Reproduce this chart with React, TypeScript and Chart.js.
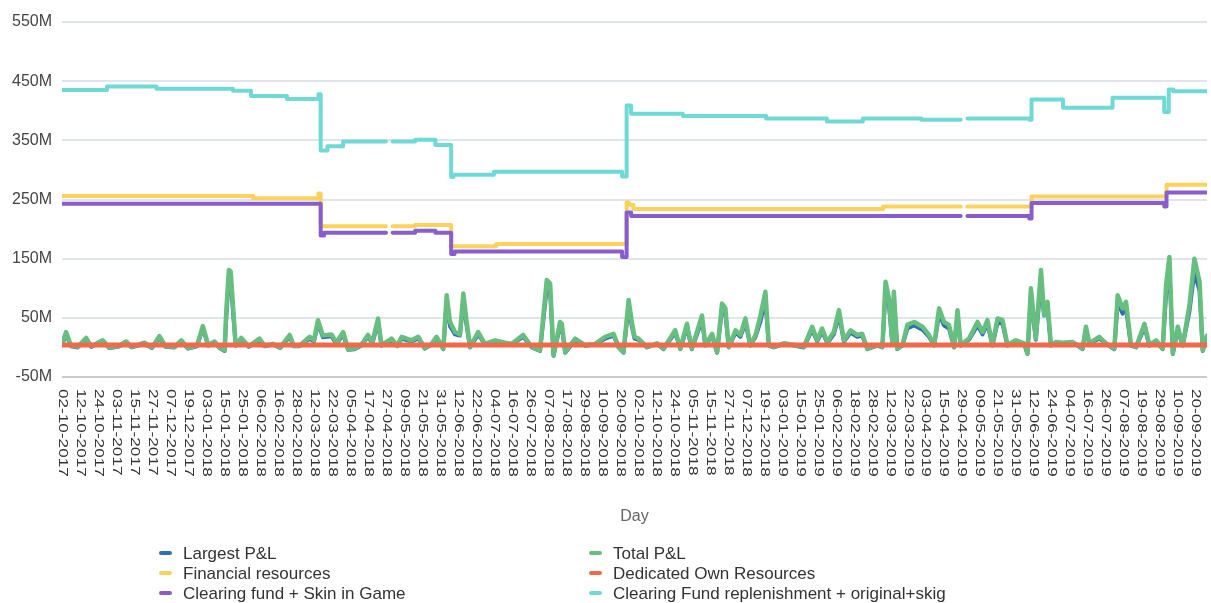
import { useEffect, useRef } from 'react';
import { Chart, registerables } from 'chart.js';

Chart.register(...registerables);

// ---------- tick labels (one every 8 business days) ----------
const dayLabels = [
  '02-10-2017', '12-10-2017', '24-10-2017', '03-11-2017', '15-11-2017', '27-11-2017', '07-12-2017', '19-12-2017',
  '03-01-2018', '15-01-2018', '25-01-2018', '06-02-2018', '16-02-2018', '28-02-2018', '12-03-2018', '22-03-2018',
  '05-04-2018', '17-04-2018', '27-04-2018', '09-05-2018', '21-05-2018', '31-05-2018', '12-06-2018', '22-06-2018',
  '04-07-2018', '16-07-2018', '26-07-2018', '07-08-2018', '17-08-2018', '29-08-2018', '10-09-2018', '20-09-2018',
  '02-10-2018', '12-10-2018', '24-10-2018', '05-11-2018', '15-11-2018', '27-11-2018', '07-12-2018', '19-12-2018',
  '03-01-2019', '15-01-2019', '25-01-2019', '06-02-2019', '18-02-2019', '28-02-2019', '12-03-2019', '22-03-2019',
  '03-04-2019', '15-04-2019', '29-04-2019', '09-05-2019', '21-05-2019', '31-05-2019', '12-06-2019', '24-06-2019',
  '04-07-2019', '16-07-2019', '26-07-2019', '07-08-2019', '19-08-2019', '29-08-2019', '10-09-2019', '20-09-2019',
];
const DAYS_PER_LABEL = 8;
const LAST_DAY = 509;

const yTicks = [-50, 50, 150, 250, 350, 450, 550];

// ---------- P&L series (business-day index, values in M) ----------
const pnlDays = [
  0, 1.8, 4, 7, 10.7, 13, 18.1, 21, 25, 28.5, 31, 36.6, 40, 43.3, 46, 50, 53, 56, 60, 62.6, 65, 67.8, 70, 72.3, 73,
  74.2, 75, 76, 77.2, 79.7, 83, 87.8, 90, 93.8, 97, 101.2, 103, 105.6, 110.1, 112, 113.8, 116, 119.8, 122, 125, 127.2,
  130, 133, 136, 138, 140.5, 142, 146.5, 149, 151, 155.4, 158.4, 161.3, 164, 166.5, 169.5, 171, 172.5, 174.7, 176.9,
  178.4, 179.9, 181.4, 185, 188, 192.5, 197, 200, 205, 208.8, 212.5, 215.5, 217, 218.5, 221.4, 222.2, 223.7, 228.1,
  232.6, 237, 241.5, 245.2, 247.4, 249.6, 251.9, 253.3,
  254.5, 256.3, 260, 264.5, 267.4, 272.6, 274.9, 277.8, 280, 284.5, 286, 289, 291.2, 293.4, 294.9, 296.4, 299.4, 301.6,
  303.8, 306, 308.3, 310.5, 312.7, 314.2, 316.4, 320.9, 325.3, 329.8, 333.5, 335.7, 337.9, 340.2, 343.1, 345.4, 347.6,
  350.6, 353.5, 355.7, 358, 362.4, 364.7, 366.1, 367.6, 369.1, 369.8, 371.3, 373.6, 375.8, 378.8,
  382.5, 385.4, 387.7, 389.9, 392.1, 394.3, 396.6, 398.1, 399.5, 403.2, 407, 409.2, 411.4, 413.6, 415.9, 418.1, 420.3,
  424, 427.7, 429.2, 430.7, 432.9, 435.2, 436.6, 438.1, 439.6, 441.8, 444.8, 449.3, 453.7, 455.2, 456.7, 461.1, 464.1,
  467.8, 469.3, 471.5, 473, 475.2, 477.5, 481.2, 483.4, 486.4, 489.3, 490.8, 492.3, 493.8, 496, 498.2, 501.2, 503.4,
  505.7, 507.1, 509,
];
const totalPnl = [
  5, 26, 3, 1, 16, 2, 12, 0, 2, 10, 1, 8, 0, 19, 2, 1, 12, -1, 3, 36, 4, 10, 0, -5, 60,
  131, 128, 71, 4, 16, 2, 15, 3, 6, 0, 21, 3, 3, 18, 12, 46, 20, 22, 8, 26, -3,
  -2, 4, 21, 9, 49, 4, 15, 3, 18, 12, 18, -1, 5, 18, -2, 88, 43, 26, 22,
  91, 43, 1, 26, 6, 12, 8, 6, 21, 1, -5, 114, 108, -13, 43, 40, -8, 15,
  4, 6, 18, 23, 1, -8, 80, 43,
  18, 15, 1, 7, -2, 29, -2, 40, -2, 54, 4, 23, -8, 74, 66, 1, 29, 21,
  49, 4, 21, 54, 94, 4, 1, 7, 4, 1, 35, 12, 32, 9, 26, 63, 12,
  29, 21, 23, -2, 4, 1, 111, 83, 9, 94, -2, 4, 38, 43,
  35, 21, 4, 66, 43, 38, 1, 63, 4, 15, 43, 26, 46, 4, 49, 46, 4,
  12, 7, -10, 100, 15, 131, 54, 77, 4, 9, 8, 9, -2, 35, 7, 18, 7,
  -2, 88, 66, 77, 4, 1, 40, 4, 12, -2, 105, 153, -10, 35, 4, 71, 150,
  111, -5, 20,
];
const largestPnl = [
  4, 22, 2, 0, 14, 1, 10, -1, 1, 8, 0, 6, -1, 16, 1, 0, 10, -2, 2, 32, 3, 8, -1, -6, 50,
  118, 115, 62, 3, 14, 1, 13, 2, 5, -1, 18, 2, 2, 15, 10, 40, 17, 19, 6, 22, -4,
  -3, 3, 18, 7, 42, 3, 12, 2, 15, 10, 15, -2, 4, 15, -3, 76, 36, 22, 20,
  78, 36, 0, 22, 5, 10, 6, 5, 18, 0, -6, 100, 94, -14, 36, 34, -9, 12,
  3, 5, 15, 20, 0, -9, 70, 36,
  15, 13, 0, 6, -3, 25, -3, 34, -3, 46, 3, 20, -9, 64, 56, 0, 25, 18,
  42, 3, 18, 44, 80, 3, 0, 6, 3, 0, 30, 10, 27, 7, 22, 54, 10,
  25, 18, 20, -3, 3, 0, 96, 72, 7, 82, -3, 3, 32, 37,
  30, 18, 3, 56, 37, 32, 0, 54, 3, 13, 37, 22, 40, 3, 42, 40, 3,
  10, 6, -11, 86, 13, 112, 54, 66, 3, 8, 7, 8, -3, 30, 6, 15, 6,
  -3, 76, 57, 66, 3, 0, 34, 3, 10, -3, 90, 130, -11, 30, 3, 61, 128,
  95, -6, 17,
];

// ---------- step series (value starts at given day; null = no data) ----------
const finResDays = [0, 85, 114, 115, 144, 145, 147, 157, 173, 193, 251, 252, 254, 365, 399.5, 401, 402.5, 431, 491, 509];
const finResVals = [256, 252, 260, 205, 205, null, 205, 207, 171, 175, 245, 241, 234, 238, 238, null, 238, 255, 275, 275];

const ownResDays = [0, 509];
const ownResVals = [4, 4];

const cfSkinDays = [0, 115, 116.5, 144, 145, 147, 157, 166, 173, 174.5, 249, 251, 253, 399.5, 401, 402.5, 430, 431, 490, 491, 509];
const cfSkinVals = [243, 189, 194, 194, null, 194, 197, 194, 158, 162, 153, 228, 222, 222, null, 222, 218, 244, 238, 262, 262];

const cfReplDays = [0, 20, 42, 76, 84, 100, 114, 115, 118, 125, 144, 145, 147, 157, 166, 173, 174, 192, 249, 251, 253, 276,
  313, 340, 356, 382, 399.5, 401, 402.5, 430, 431, 445, 467, 490, 492, 494, 509];
const cfReplVals = [435, 441, 437, 434, 425, 420, 428, 333, 340, 348, 348, null, 348, 351, 342, 288, 292, 297, 289, 409, 395, 391,
  387, 382, 387, 385, 385, null, 387, 385, 419, 405, 422, 398, 436, 433, 433];

const seriesNames = [
  'Largest P&L',
  'Total P&L',
  'Financial resources',
  'Dedicated Own Resources',
  'Clearing fund + Skin in Game',
  'Clearing Fund replenishment + original+skig',
];
const seriesColors = ['#2f70b4', '#67bf7f', '#fbd35c', '#ef6a4a', '#8a5dcf', '#6fd9d6'];

const FONT = "'Liberation Sans', Arial, Helvetica, sans-serif";

const toPts = (xs: number[], ys: (number | null)[]) => xs.map((x, i) => ({ x, y: ys[i] }));

const decorPlugin = {
  id: 'decor',
  afterDraw(chart: any) {
    const ctx = chart.ctx as CanvasRenderingContext2D;
    const xs = chart.scales.x;
    const area = chart.chartArea;
    ctx.save();
    // x tick labels, rotated clockwise
    ctx.fillStyle = '#333';
    ctx.font = `12px ${FONT}`;
    ctx.textAlign = 'left';
    ctx.textBaseline = 'middle';
    dayLabels.forEach((lab, i) => {
      const px = xs.getPixelForValue(i * DAYS_PER_LABEL);
      ctx.save();
      ctx.translate(px, area.bottom + 12);
      ctx.rotate(Math.PI / 2);
      ctx.scale(1.43, 1);
      ctx.fillText(lab, 0, 0);
      ctx.restore();
    });
    // axis title
    ctx.fillStyle = '#666';
    ctx.font = `16px ${FONT}`;
    ctx.textAlign = 'center';
    ctx.fillText('Day', (area.left + area.right) / 2, 517);
    // legend, two columns
    const colX = [159, 589];
    const rowY = [553, 573, 593];
    ctx.font = `17px ${FONT}`;
    ctx.textAlign = 'left';
    chart.data.datasets.forEach((d: any, i: number) => {
      const cx = colX[i % 2];
      const cy = rowY[Math.floor(i / 2)];
      ctx.strokeStyle = d.borderColor;
      ctx.lineWidth = 4;
      ctx.lineCap = 'round';
      ctx.beginPath();
      ctx.moveTo(cx + 2, cy);
      ctx.lineTo(cx + 11, cy);
      ctx.stroke();
      ctx.fillStyle = '#333';
      ctx.fillText(d.label, cx + 24, cy + 1);
    });
    ctx.restore();
  },
};

export default function App() {
  const ref = useRef<HTMLCanvasElement>(null);
  useEffect(() => {
    const base = (i: number, data: any[], width: number, order: number, stepped: any) => ({
      label: seriesNames[i],
      data,
      borderColor: seriesColors[i],
      backgroundColor: seriesColors[i],
      borderWidth: width,
      pointRadius: 0,
      pointHoverRadius: 0,
      tension: 0,
      stepped,
      order,
      spanGaps: false,
      fill: false,
      borderJoinStyle: 'round',
      borderCapStyle: 'round',
    });
    const chart = new Chart(ref.current as HTMLCanvasElement, {
      type: 'line',
      data: {
        datasets: [
          base(0, toPts(pnlDays, largestPnl), 4, 2, false),
          base(1, toPts(pnlDays, totalPnl), 4.5, 1, false),
          base(2, toPts(finResDays, finResVals), 4, 4, 'before'),
          base(3, toPts(ownResDays, ownResVals), 5, 0, false),
          base(4, toPts(cfSkinDays, cfSkinVals), 4, 3, 'before'),
          base(5, toPts(cfReplDays, cfReplVals), 4, 3, 'before'),
        ] as any,
      },
      options: {
        responsive: false,
        animation: false,
        events: [],
        layout: { padding: { top: 22, right: 4, bottom: 226, left: 0 } },
        plugins: { legend: { display: false }, tooltip: { enabled: false } },
        scales: {
          x: { type: 'linear', min: 0, max: LAST_DAY, display: false },
          y: {
            min: -50,
            max: 550,
            afterBuildTicks: (s: any) => { s.ticks = yTicks.map((v) => ({ value: v })); },
            ticks: {
              callback: (v: any) => `${v}M`,
              color: '#444',
              font: { size: 16, family: FONT },
              padding: 10,
            },
            grid: {
              drawTicks: false,
              lineWidth: 2,
              color: (c: any) => (c.tick && c.tick.value === -50 ? '#cbcbcb' : '#e2e4eb'),
            },
            border: { display: false },
            afterFit: (s: any) => { s.width = 62; },
          },
        },
      } as any,
      plugins: [decorPlugin],
    });
    return () => chart.destroy();
  }, []);
  return (
    <div style={{ position: 'fixed', left: 0, top: 0, width: 1211, height: 603, background: '#fff' }}>
      <canvas ref={ref} width={1211} height={603} style={{ display: 'block' }} />
    </div>
  );
}
